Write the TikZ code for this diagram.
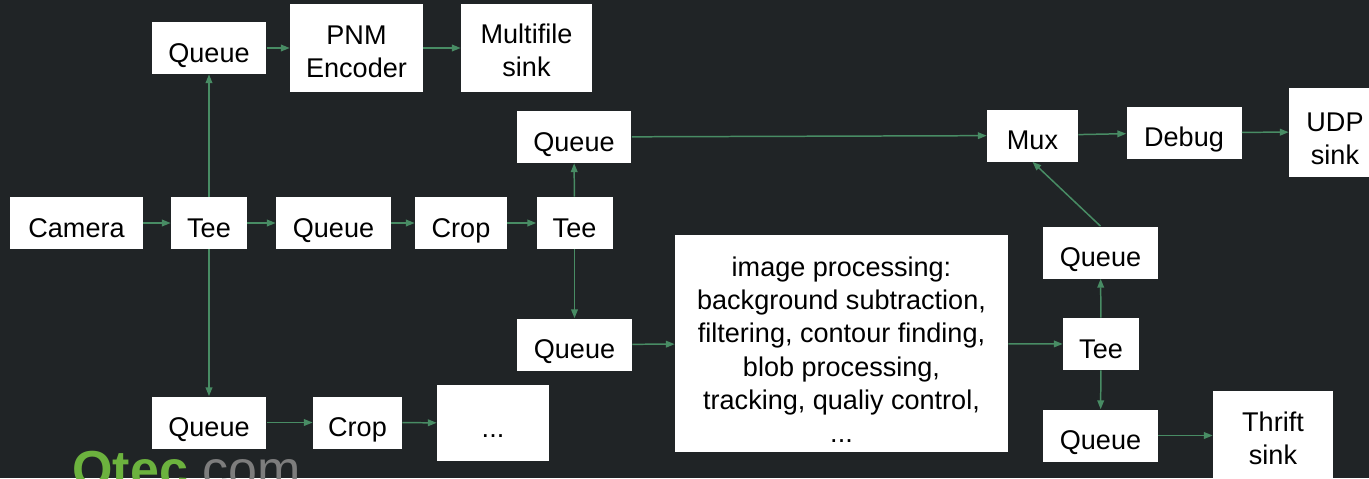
\documentclass[tikz,border=0pt]{standalone}
\usepackage{fontspec}
\setmainfont{Liberation Sans}
\usetikzlibrary{arrows.meta}
\definecolor{SlideBg}{RGB}{32,36,38}
\definecolor{PipeGreen}{RGB}{72,140,100}
\definecolor{QtecGreen}{RGB}{108,178,62}
\definecolor{QtecGrey}{RGB}{125,125,125}
\newcommand\padtop[1]{\rule{0pt}{#1}}
\tikzset{
  elem/.style={fill=white, inner sep=0pt, align=center, text=black,
    font=\fontsize{15.4}{18.8}\selectfont, minimum width=2.3cm, minimum height=1.04cm,
    text height=0.56cm, text depth=0pt},
  teebox/.style={elem, minimum width=1.52cm},
  multibox/.style={elem, text height={}, text depth={}},
  sinkbox/.style={multibox, minimum height=1.78cm},
  pipe/.style={-{Triangle[length=5pt, width=3.8pt]}, line width=0.85pt, PipeGreen},
}

\begin{document}
\begin{tikzpicture}[x=0.02cm, y=-0.02cm]
  \clip (0,0) rectangle (1369,478);
  \fill[SlideBg] (0,0) rectangle (1369,478);

  % main branch
  \node[elem, minimum width=2.66cm] (cam) at (76.5,223) {Camera};
  \node[teebox] (tee1) at (209,223) {Tee};
  \node[elem] (q2) at (333.5,223) {Queue};
  \node[elem, minimum width=1.84cm] (crop1) at (461,223) {Crop};
  \node[teebox] (tee2) at (574.5,223) {Tee};

  % snapshot branch
  \node[elem] (q1) at (209,48) {Queue};
  \node[sinkbox, minimum width=2.66cm] (pnm) at (356.5,48) {\padtop{0.51cm}PNM\\Encoder};
  \node[sinkbox, minimum width=2.62cm] (mfs) at (526.5,48) {\padtop{0.49cm}Multifile\\sink};

  % second crop branch
  \node[elem] (q7) at (209,422.5) {Queue};
  \node[elem, minimum width=1.78cm] (crop2) at (357.5,422.5) {Crop};
  \node[elem, minimum width=2.24cm, minimum height=1.52cm] (dots) at (493,423) {...};

  % processing
  \node[elem] (q3) at (574,137) {Queue};
  \node[elem] (q4) at (574.5,344.5) {Queue};
  \node[multibox, minimum width=6.66cm, minimum height=4.34cm] (proc) at (841.5,343.5)
    {\padtop{0.64cm}image processing:\\background subtraction,\\filtering, contour finding,\\blob processing,\\tracking, qualiy control,\\...};
  \node[teebox] (tee3) at (1101,344) {Tee};
  \node[elem] (q5) at (1100.5,252.5) {Queue};
  \node[elem] (q6) at (1100.5,435.5) {Queue};
  \node[sinkbox, minimum width=2.4cm, minimum height=1.88cm] (thr) at (1273,438) {Thrift\\sink};

  % output
  \node[elem, minimum width=1.82cm] (mux) at (1032.5,135.5) {Mux};
  \node[elem] (dbg) at (1184,132.5) {Debug};
  \node[sinkbox, minimum width=1.84cm] (udp) at (1335,132) {\padtop{0.63cm}UDP\\sink};

  \foreach \a/\b in {cam/tee1, tee1/q2, q2/crop1, crop1/tee2, tee1/q1, q1/pnm, pnm/mfs,
      tee1/q7, q7/crop2, crop2/dots, tee2/q3, tee2/q4, q4/proc, proc/tee3,
      tee3/q5, tee3/q6, q3/mux, mux/dbg, dbg/udp}
    \draw[pipe] (\a) -- (\b);
  \draw[pipe] (q5.north) -- (mux.south);
  \draw[pipe] (q6.east) -- (q6.east -| thr.west);

  % logo
  \node[anchor=base west, inner sep=0pt, font=\fontsize{29.6}{30}\selectfont] (logo) at (72,487)
    {\textcolor{QtecGreen}{\bfseries Qtec}\textcolor{QtecGrey}{.com}};
\end{tikzpicture}
\end{document}
